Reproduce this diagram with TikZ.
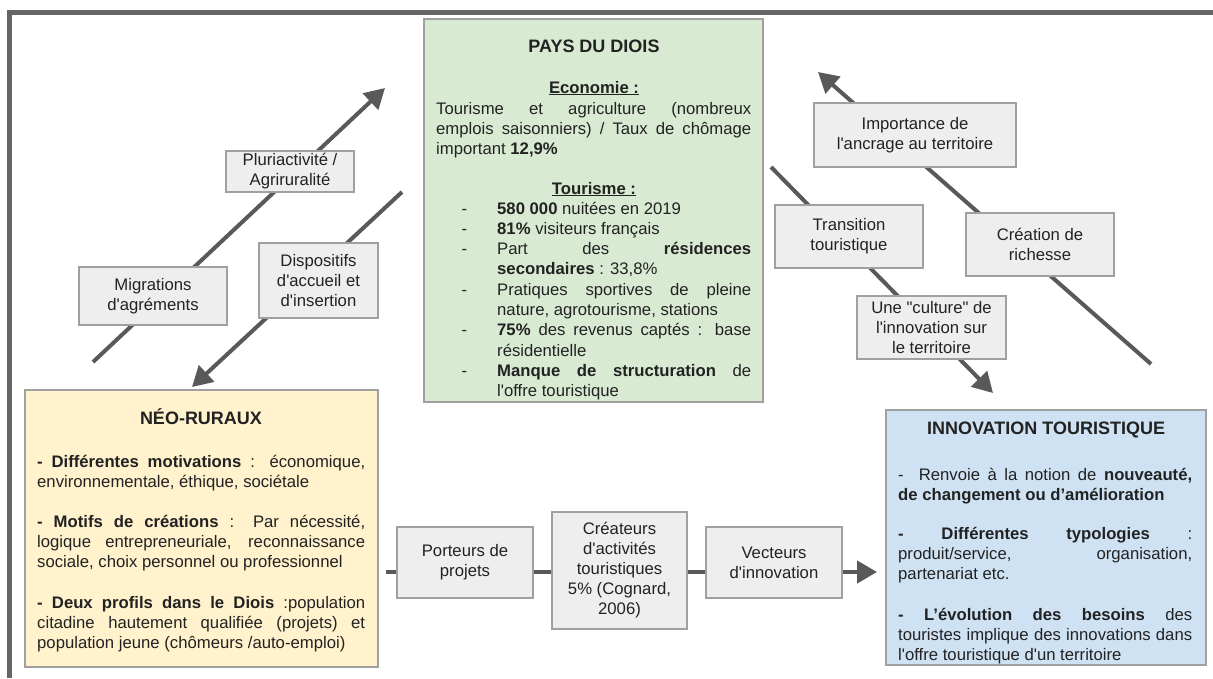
\documentclass[tikz,border=0pt]{standalone}
\usepackage{fontspec}
\setmainfont{Liberation Sans}[Ligatures=TeXOff]
\usetikzlibrary{arrows.meta}
\tolerance=9999
\hyphenpenalty=10000
\hbadness=10000
\definecolor{frameC}{HTML}{666666}
\definecolor{arrC}{HTML}{595959}
\definecolor{bordC}{HTML}{A0A0A0}
\definecolor{greenF}{HTML}{D9EAD3}
\definecolor{yellowF}{HTML}{FFF2CC}
\definecolor{blueF}{HTML}{CFE2F3}
\definecolor{grayF}{HTML}{EEEEEE}
\definecolor{txt}{HTML}{222222}
\newcommand\dashitem{\leavevmode\llap{-\hspace{30pt}}}
\tikzset{
 bigbox/.style={draw=bordC, line width=1.5pt, inner sep=0pt},
 lbl/.style={draw=bordC, fill=grayF, line width=1.2pt, align=center, inner sep=0pt, font=\fontsize{16.7}{20}\selectfont, text=txt},
 para/.style={anchor=base west, inner sep=0pt, align=justify, font=\fontsize{16.7}{20.3}\selectfont, text=txt},
 ttl/.style={anchor=base, inner sep=0pt, font=\fontsize{18}{22}\selectfont\bfseries, text=txt},
 hd/.style={anchor=base, inner sep=0pt, font=\fontsize{16.7}{20}\selectfont\bfseries, text=txt},
 conn/.style={draw=arrC, line width=4pt},
 arrowed/.style={-{Triangle[length=20pt,width=22pt]}},
 outerframe/.style={draw=frameC, line width=5pt}
}
\begin{document}
\begin{tikzpicture}[x=1pt,y=-1pt]
\useasboundingbox (0,0) rectangle (1213,678);
% outer frame
\coordinate (fa) at (9.5,678);
\coordinate (fb) at (9.5,12.5);
\coordinate (fc) at (1213,12.5);
\draw[outerframe] (fa) -- (fb) -- (fc);

% connector end points
\coordinate (a1s) at (93,362);
\coordinate (a1e) at (385,88);
\coordinate (a2s) at (402,192);
\coordinate (a2e) at (192,387);
\coordinate (a3s) at (1151,364);
\coordinate (a3e) at (818,72);
\coordinate (a4s) at (771,167);
\coordinate (a4e) at (993,393);
\coordinate (a5s) at (386,572);
\coordinate (a5e) at (877,572);

\draw[conn, arrowed] (a1s) -- (a1e);
\draw[conn, arrowed] (a2s) -- (a2e);
\draw[conn, arrowed] (a3s) -- (a3e);
\draw[conn, arrowed] (a4s) -- (a4e);
\draw[conn, line width=4.5pt, arrowed] (a5s) -- (a5e);

% big boxes
\node[bigbox, fill=greenF, minimum width=339pt, minimum height=383pt] (pays) at (593.5,210.5) {};
\node[bigbox, fill=yellowF, minimum width=353pt, minimum height=277pt] (neo) at (201.5,528.5) {};
\node[bigbox, fill=blueF, minimum width=320pt, minimum height=255pt] (innov) at (1046,537.5) {};

% PAYS DU DIOIS content
\node[ttl] (paysT) at (594,52) {PAYS DU DIOIS};
\node[hd] (ecoT) at (594,93) {\underline{Economie :}};
\node[para, text width=315pt] (ecoP) at (436,114) {Tourisme et agriculture (nombreux\linebreak emplois saisonniers) / Taux de chômage\linebreak important \textbf{12,9\%}};
\node[hd] (touT) at (594,194) {\underline{Tourisme :}};
\node[para, text width=254pt] (touP) at (497,214) {\dashitem\textbf{580 000} nuitées en 2019\par
\dashitem\textbf{81\%} visiteurs français\par
\dashitem Part des \textbf{résidences}\linebreak \textbf{secondaires} : 33,8\%\par
\dashitem Pratiques sportives de pleine\linebreak nature, agrotourisme, stations\par
\dashitem\textbf{75\%} des revenus captés : base\linebreak résidentielle\par
\dashitem\textbf{Manque de structuration} de\linebreak l'offre touristique};

% NEO-RURAUX content
\node[ttl] (neoT) at (201,424) {NÉO-RURAUX};
\node[para, text width=328pt] (neoP1) at (37,467) {\textbf{- Différentes motivations} : économique,\linebreak environnementale, éthique, sociétale};
\node[para, text width=328pt] (neoP2) at (37,527) {\textbf{- Motifs de créations} : Par nécessité,\linebreak logique entrepreneuriale, reconnaissance\linebreak sociale, choix personnel ou professionnel};
\node[para, text width=328pt] (neoP3) at (37,608) {\textbf{- Deux profils dans le Diois} :population\linebreak citadine hautement qualifiée (projets) et\linebreak population jeune (chômeurs /auto-emploi)};

% INNOVATION content
\node[ttl] (innT) at (1046,434) {INNOVATION TOURISTIQUE};
\node[para, text width=294pt] (innP1) at (898,480) {-\ \ Renvoie à la notion de \textbf{nouveauté,}\linebreak \textbf{de changement ou d’amélioration}};
\node[para, text width=294pt] (innP2) at (898,539) {\textbf{- Différentes typologies} :\linebreak produit/service, organisation,\linebreak partenariat etc.};
\node[para, text width=294pt] (innP3) at (898,620) {\textbf{- L’évolution des besoins} des\linebreak touristes implique des innovations dans\linebreak l'offre touristique d'un territoire};

% label boxes
\node[lbl, minimum width=128pt, minimum height=41pt] (pluri) at (290,171.5) {Pluriactivité /\\Agriruralité};
\node[lbl, minimum width=148pt, minimum height=58pt] (migr) at (153,296) {Migrations\\d'agréments};
\node[lbl, minimum width=119pt, minimum height=75pt] (disp) at (318.5,280.5) {Dispositifs\\d'accueil et\\d'insertion};
\node[lbl, minimum width=202pt, minimum height=64pt] (ancr) at (915,135) {Importance de\\l'ancrage au territoire};
\node[lbl, minimum width=148pt, minimum height=63pt] (trans) at (849,236.5) {Transition\\touristique};
\node[lbl, minimum width=148pt, minimum height=63pt] (rich) at (1040,244.5) {Création de\\richesse};
\node[lbl, minimum width=149pt, minimum height=63pt] (cult) at (931.5,327.5) {Une "culture" de\\l'innovation sur\\le territoire};
\node[lbl, minimum width=136pt, minimum height=71pt] (port) at (465,562.5) {Porteurs de\\projets};
\node[lbl, minimum width=135pt, minimum height=117pt] (crea) at (619.5,570.5) {Créateurs\\d'activités\\touristiques\\5\% (Cognard,\\2006)};
\node[lbl, minimum width=136pt, minimum height=71pt] (vect) at (774,562.5) {Vecteurs\\d'innovation};
\end{tikzpicture}
\end{document}
